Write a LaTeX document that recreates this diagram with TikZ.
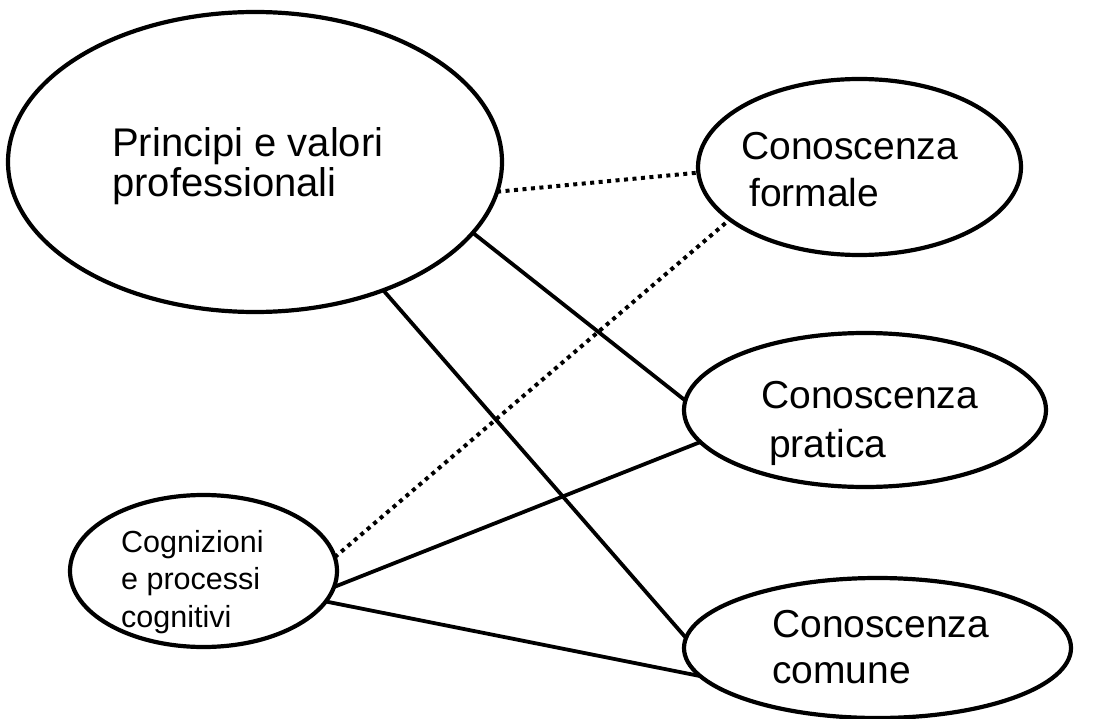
\documentclass[tikz,border=0pt]{standalone}
\usepackage{fontspec}
\setmainfont{Liberation Sans}
\usetikzlibrary{shapes.geometric}

\begin{document}
\begin{tikzpicture}[x=1pt,y=-1pt,
  oval/.style={draw, ellipse, line width=4.2pt, inner sep=0pt, outer sep=0pt},
  link/.style={line width=3.8pt},
  dotlink/.style={line width=4pt, dash pattern=on 4pt off 4.5pt},
  lbl/.style={anchor=base west, inner sep=0pt, align=left}]
\useasboundingbox (0,0) rectangle (1102,719);

% concept ellipses
\node[oval, minimum width=494pt, minimum height=300pt] (princ) at (255,162) {};
\node[oval, minimum width=323pt, minimum height=176pt] (formale) at (859.5,167) {};
\node[oval, minimum width=362pt, minimum height=154pt] (pratica) at (865,410) {};
\node[oval, minimum width=387pt, minimum height=140pt] (comune) at (877.5,648) {};
\node[oval, minimum width=267pt, minimum height=152pt] (cogn) at (203.5,571) {};

% labels (anchored at the baseline of their last line)
\node[lbl, font=\fontsize{40}{40}\selectfont] (tprinc) at (112,197) {Principi e valori\\professionali};
\node[lbl, font=\fontsize{39}{47}\selectfont] (tformale) at (741,207) {Conoscenza\\\hspace*{8pt}formale};
\node[lbl, font=\fontsize{39}{49}\selectfont] (tpratica) at (761,457) {Conoscenza\\\hspace*{8pt}pratica};
\node[lbl, font=\fontsize{39}{46}\selectfont] (tcomune) at (772,683) {Conoscenza\\comune};
\node[lbl, font=\fontsize{30.5}{37.5}\selectfont] (tcogn) at (121,627) {Cognizioni\\e processi\\cognitivi};

% connections
\draw[dotlink] (princ.-7) -- (formale.182);
\draw[dotlink] (cogn.6) -- (formale.202.5);
\draw[link] (princ.-18.3) -- (pratica.177.8);
\draw[link] (princ.-45) -- (comune.177.6);
\draw[link] (cogn.-7.9) -- (pratica.191.9);
\draw[link] (cogn.-14.5) -- (comune.189.1);
\end{tikzpicture}
\end{document}
